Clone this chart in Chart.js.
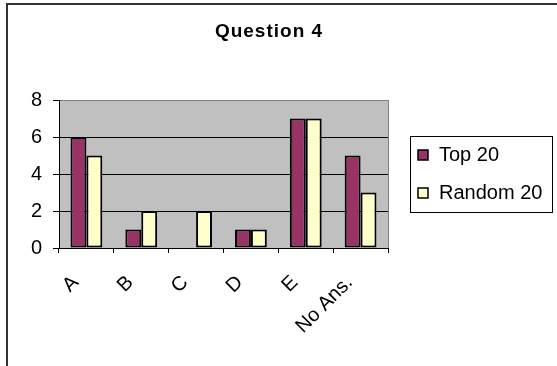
<!DOCTYPE html>
<html>
<head>
<meta charset="utf-8">
<script src="https://cdn.jsdelivr.net/npm/chart.js@4/dist/chart.umd.min.js"></script>
<style>
    body { margin: 0; background: #ffffff; }
</style>
</head>
<body>
<canvas id="chart-1" width="557" height="366"></canvas>
<script>
// cau hoi 4 - so sanh Top 20 va Random 20
var categories = ["A", "B", "C", "D", "E", "No Ans."];
var top20 = [6, 1, 0, 1, 7, 5];
var random20 = [5, 2, 2, 1, 7, 3];
var yTicks = [0, 2, 4, 6, 8];

var chartTitle = "Question 4";

// nen xam, vien, tieu de va chu thich kieu Excel
var excelLook = {
    id: 'excelLook',
    beforeDraw: function (chart) {
        var ctx = chart.ctx;
        var a = chart.chartArea;
        ctx.save();
        ctx.fillStyle = '#ffffff';
        ctx.fillRect(0, 0, chart.width, chart.height);
        ctx.fillStyle = '#c0c0c0';
        ctx.fillRect(a.left, a.top, a.right - a.left, a.bottom - a.top);
        ctx.restore();
    },
    afterDraw: function (chart) {
        var ctx = chart.ctx;
        var a = chart.chartArea;
        ctx.save();

        // vien phai cua vung ve
        ctx.strokeStyle = '#808080';
        ctx.lineWidth = 1;
        ctx.beginPath();
        ctx.moveTo(Math.round(a.right) + 0.5, a.top);
        ctx.lineTo(Math.round(a.right) + 0.5, a.bottom);
        ctx.stroke();

        // vien ngoai
        ctx.strokeStyle = '#333333';
        ctx.lineWidth = 2;
        ctx.strokeRect(7, 4, 700, 500);

        // tieu de
        ctx.fillStyle = '#000000';
        ctx.font = 'bold 19px Arial, "Liberation Sans", sans-serif';
        ctx.letterSpacing = '1px';
        ctx.textAlign = 'center';
        ctx.textBaseline = 'middle';
        ctx.fillText(chartTitle, 269, 32);
        ctx.letterSpacing = '0px';

        // chu thich
        ctx.strokeStyle = '#000000';
        ctx.lineWidth = 1;
        ctx.strokeRect(410.5, 136.5, 142, 76);
        var rows = [155, 193];
        chart.data.datasets.forEach(function (ds, i) {
            ctx.fillStyle = ds.backgroundColor;
            ctx.fillRect(418, rows[i] - 5, 10, 10);
            ctx.lineWidth = 1.5;
            ctx.strokeRect(418, rows[i] - 5, 10, 10);
            ctx.fillStyle = '#000000';
            ctx.font = '20px Arial, "Liberation Sans", sans-serif';
            ctx.textAlign = 'left';
            ctx.textBaseline = 'middle';
            ctx.fillText(ds.label, 439, rows[i]);
        });
        ctx.restore();
    }
};

var ctx = document.getElementById("chart-1").getContext("2d");
var chart_q4 = new Chart(ctx, {
    type: "bar",
    data: {
        labels: categories,
        datasets: [
            {
                label: "Top 20",
                data: top20,
                backgroundColor: "#993366",
                borderColor: "#000000",
                borderWidth: 2,
                borderSkipped: false,
                barPercentage: 1,
                categoryPercentage: 0.58
            },
            {
                label: "Random 20",
                data: random20,
                backgroundColor: "#ffffcc",
                borderColor: "#000000",
                borderWidth: 2,
                borderSkipped: false,
                barPercentage: 1,
                categoryPercentage: 0.58
            }
        ]
    },
    options: {
        responsive: false,
        animation: false,
        layout: {
            padding: { top: 100, right: 169, left: 0, bottom: 0 }
        },
        scales: {
            x: {
                afterFit: function (scale) { scale.height = 118; },
                grid: {
                    offset: true,
                    drawOnChartArea: false,
                    color: '#000000',
                    tickLength: 5
                },
                border: { display: true, color: '#000000', width: 1 },
                ticks: {
                    autoSkip: false,
                    minRotation: 45,
                    maxRotation: 45,
                    labelOffset: -11,
                    padding: 18,
                    color: '#000000',
                    font: { family: 'Arial, "Liberation Sans", sans-serif', size: 20 }
                }
            },
            y: {
                min: 0,
                max: 8,
                afterFit: function (scale) { scale.width = 59; },
                afterBuildTicks: function (scale) {
                    scale.ticks = yTicks.map(function (v) { return { value: v }; });
                },
                grid: {
                    color: function (c) { return c.tick && c.tick.value === 8 ? '#808080' : '#000000'; },
                    tickColor: '#000000',
                    tickLength: 6
                },
                border: { display: true, color: '#000000', width: 1 },
                ticks: {
                    padding: 11,
                    color: '#000000',
                    font: { family: 'Arial, "Liberation Sans", sans-serif', size: 20 }
                }
            }
        },
        plugins: {
            legend: { display: false },
            title: { display: false },
            tooltip: { enabled: false }
        }
    },
    plugins: [excelLook]
});
</script>
</body>
</html>
